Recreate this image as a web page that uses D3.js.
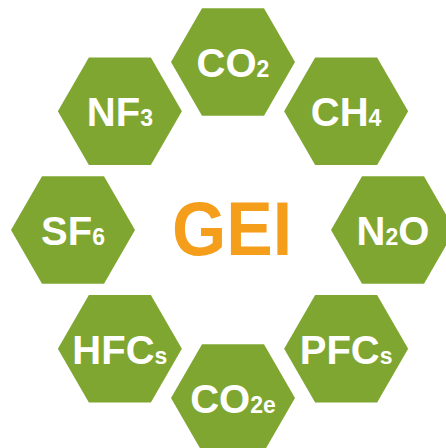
<!DOCTYPE html>
<html>
<head>
<meta charset="utf-8">
<script src="https://cdn.jsdelivr.net/npm/d3@7"></script>
<style>
    html, body { margin: 0; padding: 0; background: #fff; }
    svg { display: block; }
</style>
</head>
<body>
<div id="chart"></div>
<script>
// gases around the ring, clockwise from the top
var gasMain = ["CO", "CH", "N", "PFC", "CO", "HFC", "SF", "NF"];
var gasSub = ["2", "4", "2", "s", "2e", "s", "6", "3"];
var gasTail = ["", "", "O", "", "", "", "", ""];
var centerLabel = "GEI";

(function () {
    "use strict";

    var width = 446,
        height = 448,
        ringCenter = { x: 233, y: 230 },
        ringRadiusX = 160,
        ringRadiusY = 168,
        hexRadius = 62,
        green = "#80a632",
        orange = "#f59e1b",
        svg, angle, hexPoints, line, cell, label;

    svg = d3.select("#chart")
        .append("svg")
        .attr("width", width)
        .attr("height", height);

    svg.append("rect")
        .attr("width", width)
        .attr("height", height)
        .attr("fill", "#fff");

    // index -> angle, starting at the top
    angle = d3.scaleLinear()
        .domain([0, gasMain.length])
        .range([-Math.PI / 2, 1.5 * Math.PI]);

    // flat top hexagon
    hexPoints = d3.range(6).map(function (i) {
        var a = i * Math.PI / 3;
        return [hexRadius * Math.cos(a), hexRadius * Math.sin(a)];
    });

    line = d3.line().curve(d3.curveLinearClosed);

    cell = svg.selectAll(".gas")
        .data(gasMain)
        .enter()
        .append("g")
        .attr("class", "gas")
        .attr("transform", function (d, i) {
            var a = angle(i);
            return "translate(" + (ringCenter.x + ringRadiusX * Math.cos(a)) + "," +
                (ringCenter.y + ringRadiusY * Math.sin(a)) + ")";
        });

    cell.append("path")
        .attr("d", line(hexPoints))
        .attr("fill", green);

    label = cell.append("text")
        .attr("y", 15)
        .attr("text-anchor", "middle")
        .attr("fill", "#fff")
        .attr("font-family", "Liberation Sans, Arial, sans-serif")
        .attr("font-weight", "bold");

    label.append("tspan")
        .attr("font-size", 40)
        .text(function (d) { return d; });

    label.append("tspan")
        .attr("font-size", 23)
        .text(function (d, i) { return gasSub[i]; });

    label.filter(function (d, i) { return gasTail[i] !== ""; })
        .append("tspan")
        .attr("font-size", 40)
        .text(function (d, i) { return gasTail[gasMain.indexOf(d)]; });

    svg.append("text")
        .attr("x", ringCenter.x - 1)
        .attr("y", 255)
        .attr("text-anchor", "middle")
        .attr("fill", orange)
        .attr("font-family", "Liberation Sans, Arial, sans-serif")
        .attr("font-weight", "bold")
        .attr("font-size", 76)
        .attr("textLength", 120)
        .attr("lengthAdjust", "spacingAndGlyphs")
        .text(centerLabel);
}());
</script>
</body>
</html>
